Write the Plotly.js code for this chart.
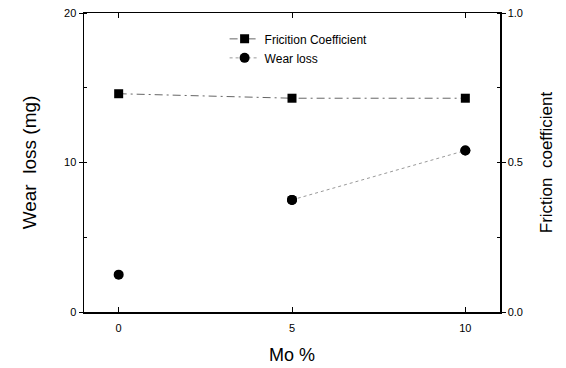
<!DOCTYPE html>
<html>
<head>
<meta charset="utf-8">
<script src="https://cdn.plot.ly/plotly-3.0.1.min.js"></script>
<style>html,body{margin:0;padding:0;background:#fff;}#chart{width:566px;height:368px;}</style>
</head>
<body>
<div id="chart"></div>
<script>
var moPercent = [0, 5, 10];
var frictionCoefficient = [0.73, 0.715, 0.715];
var wearLoss = [2.5, 7.5, 10.8];
var xTickVals = [0, 5, 10];
var xTickText = ['0', '5', '10'];
var yTickVals = [0, 10, 20];
var yTickText = ['0', '10', '20'];
var y2TickVals = [0, 0.5, 1.0];
var y2TickText = ['0.0', '0.5', '1.0'];

var FONT = 'Liberation Sans, Arial, sans-serif';

var traces = [
  {
    x: moPercent, y: frictionCoefficient, yaxis: 'y2',
    name: 'Fricition Coefficient', type: 'scatter', mode: 'lines+markers',
    line: {color: '#666', width: 1, dash: '8px,4px,2px,4px'},
    marker: {symbol: 'square', size: 9, color: '#000'}
  },
  {
    // the visible dotted connector in the print runs only between 5 % and 10 %
    x: moPercent.slice(1), y: wearLoss.slice(1), yaxis: 'y',
    name: 'Wear loss', type: 'scatter', mode: 'lines+markers',
    line: {color: '#999', width: 1, dash: 'dot'},
    marker: {symbol: 'circle', size: 10, color: '#000'}
  },
  {
    x: moPercent, y: wearLoss, yaxis: 'y',
    name: 'Wear loss', type: 'scatter', mode: 'markers', showlegend: false,
    marker: {symbol: 'circle', size: 10, color: '#000'}
  }
];

var layout = {
  width: 566, height: 368,
  margin: {l: 84, r: 66, t: 13, b: 56, pad: 0},
  paper_bgcolor: '#fff', plot_bgcolor: '#fff',
  font: {family: FONT, color: '#000', size: 11},
  showlegend: true,
  legend: {x: 0.338, y: 0.962, xanchor: 'left', yanchor: 'top', bgcolor: 'rgba(0,0,0,0)',
           font: {family: FONT, size: 12, color: '#000'}, tracegroupgap: 0},
  xaxis: {
    range: [-1, 11], tickvals: xTickVals, ticktext: xTickText,
    ticks: 'inside', ticklen: 5, tickwidth: 1, tickcolor: '#000',
    ticklabelstandoff: 5,
    showline: true, linecolor: '#000', linewidth: 1.5, mirror: 'ticks',
    showgrid: false, zeroline: false,
    tickfont: {family: FONT, size: 11},
    title: {text: 'Mo %', font: {family: FONT, size: 18}, standoff: 15}
  },
  yaxis: {
    range: [0, 20], tickvals: yTickVals, ticktext: yTickText,
    ticks: 'outside', ticklen: 4, tickwidth: 1, tickcolor: '#000',
    minor: {dtick: 5, ticks: 'inside', ticklen: 3, tickcolor: '#000', showgrid: false},
    showline: true, linecolor: '#000', linewidth: 1.5,
    showgrid: false, zeroline: false,
    tickfont: {family: FONT, size: 11},
    title: {text: 'Wear  loss (mg)', font: {family: FONT, size: 19}, standoff: 22}
  },
  yaxis2: {
    overlaying: 'y', side: 'right',
    range: [0, 1], tickvals: y2TickVals, ticktext: y2TickText,
    ticks: 'outside', ticklen: 4, tickwidth: 1, tickcolor: '#000',
    minor: {dtick: 0.25, ticks: 'inside', ticklen: 3, tickcolor: '#000', showgrid: false},
    showline: true, linecolor: '#000', linewidth: 1.5,
    showgrid: false, zeroline: false,
    tickfont: {family: FONT, size: 11},
    title: {text: 'Friction  coefficient', font: {family: FONT, size: 17}, standoff: 18}
  }
};

Plotly.newPlot('chart', traces, layout, {displayModeBar: false, staticPlot: true});
</script>
</body>
</html>
